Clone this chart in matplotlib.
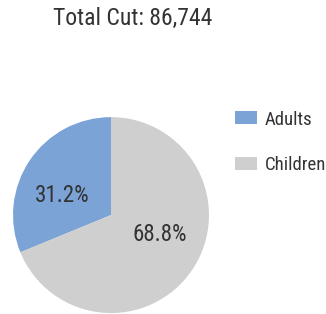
import matplotlib
matplotlib.use('Agg')
import matplotlib.pyplot as plt

# data
labels = ['Adults', 'Children']
shares = [31.2, 68.8]
colors = ['#7ba3d6', '#cfcfcf']
title = 'Total Cut: 86,744'

plt.rcParams['font.family'] = ['Roboto Condensed', 'DejaVu Sans']
text_color = '#333333'

fig = plt.figure(figsize=(3.26, 3.14), dpi=100)
ax = fig.add_axes([0.04, 0.003, 0.601, 0.624])

wedges, texts, autotexts = ax.pie(shares, colors=colors, startangle=90,
                                  counterclock=True, autopct='%.1f%%',
                                  pctdistance=0.6, radius=1.0,
                                  textprops={'fontsize': 16.5, 'color': text_color})
# labels sit a bit flatter than the mid-angle
for t in autotexts:
    x, y = t.get_position()
    t.set_position((x, y * 0.6))
ax.set_xlim(-1, 1)
ax.set_ylim(-1, 1)
ax.set_aspect('equal')

fig.text(0.406, 0.94, title, ha='center', va='center', fontsize=17, color=text_color)

fig.legend(wedges, labels, loc='upper left', bbox_to_anchor=(0.721, 0.648),
           frameon=False, fontsize=13.5, handlelength=1.17, handleheight=0.69,
           labelspacing=1.45, handletextpad=0.4, borderpad=0, borderaxespad=0,
           labelcolor=text_color)

fig.savefig('out.png', dpi=100)
